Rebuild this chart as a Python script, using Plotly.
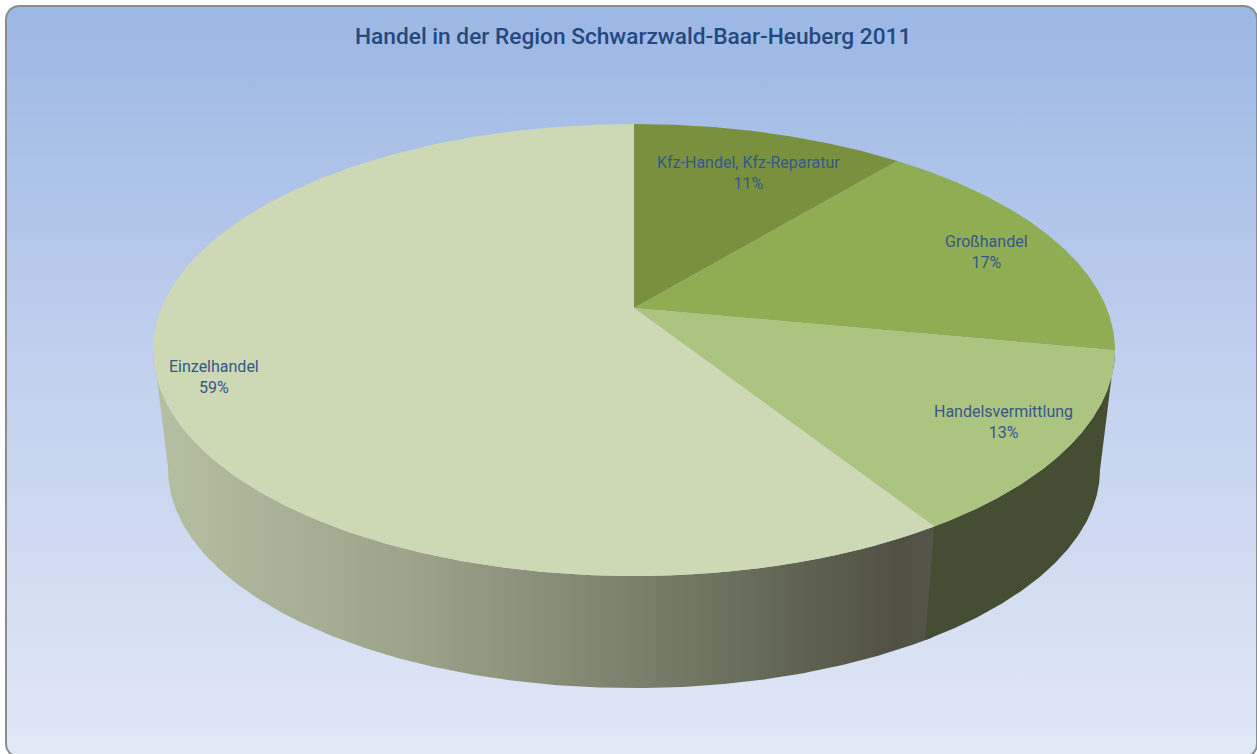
import numpy as np
import plotly.graph_objects as go

TITLE = "Handel in der Region Schwarzwald-Baar-Heuberg 2011"
categories = ["Kfz-Handel, Kfz-Reparatur", "Großhandel", "Handelsvermittlung", "Einzelhandel"]
shares = [11, 17, 13, 59]
top_colors = ["#79913F", "#8FAD52", "#ABC47F", "#CDD8B5"]
label_xy = [(748, 173), (986, 252), (1003, 422), (213.5, 377)]

W, H = 1257, 754
CX, CY = 634, 308
A, B, K = 472.6, 218.2, 0.1858
S, DY = 0.969, 130

def rim(deg, lower=False):
    t = np.radians(deg)
    u, v = np.sin(t), -np.cos(t)
    d = 1 - K * v
    x = CX + A * u / d
    y = CY + B * v / d
    if lower:
        x = CX + S * (x - CX)
        y = S * y + DY
    return x, y

def arc(a0, a1, n=240):
    return np.linspace(a0, a1, n)

fig = go.Figure()

# panel: rounded rectangle
r = 13
x0, y0, x1, y1 = 6, 6, 1257, 757
corners = [(x0 + r, y0 + r, 180), (x1 - r, y0 + r, 270), (x1 - r, y1 - r, 0), (x0 + r, y1 - r, 90)]
px, py = [], []
for ccx, ccy, st in corners:
    ca = np.radians(np.linspace(st, st + 90, 16))
    px.extend(ccx + r * np.cos(ca))
    py.extend(ccy + r * np.sin(ca))
px.append(px[0])
py.append(py[0])
fig.add_trace(go.Scatter(
    x=px, y=py, mode="lines", fill="toself",
    line=dict(color="#8C8C8C", width=2),
    fillgradient=dict(type="vertical", start=6, stop=754,
                      colorscale=[[0, "#9CB7E4"], [0.5, "#C2D1EE"], [1, "#E1E8F6"]]),
    hoverinfo="skip", showlegend=False))

# sides
edges = np.cumsum([0] + shares) * 3.6
def side(a0, a1, **kw):
    a = arc(a0, a1)
    tx, ty = rim(a)
    bx, by = rim(a, True)
    fig.add_trace(go.Scatter(
        x=np.r_[tx, bx[::-1], tx[0]], y=np.r_[ty, by[::-1], ty[0]],
        mode="lines", fill="toself", line=dict(width=0),
        hoverinfo="skip", showlegend=False, **kw))

side(edges[3] - 1, 260, fillgradient=dict(
    type="horizontal", start=157, stop=935,
    colorscale=[[0, "#B5BFA1"], [0.35, "#9AA188"], [0.7, "#70756200"[:7]],
                [0.95, "#505142"], [1, "#55564A"]]))
side(edges[2], edges[3], fillcolor="#454E33")

# top
for i, c in enumerate(top_colors):
    a = arc(edges[i], edges[i + 1])
    tx, ty = rim(a)
    fig.add_trace(go.Scatter(
        x=np.r_[CX, tx, CX], y=np.r_[CY, ty, CY], mode="lines", fill="toself",
        fillcolor=c, line=dict(width=0), name=categories[i],
        hoverinfo="skip", showlegend=False))

fig.add_annotation(x=632.5, y=36, text=TITLE, showarrow=False,
                   font=dict(family="Roboto", size=22.7, weight=500, color="#24497E"))
for c, s, (lx, ly) in zip(categories, shares, label_xy):
    fig.add_annotation(x=lx, y=ly, text=f"{c}<br>{s}%", showarrow=False, align="center",
                       font=dict(family="Roboto", size=16, color="#34588A"))

fig.update_layout(
    width=W, height=H, margin=dict(l=0, r=0, t=0, b=0),
    paper_bgcolor="white", plot_bgcolor="white", showlegend=False,
    xaxis=dict(range=[0, W], visible=False, fixedrange=True),
    yaxis=dict(range=[H, 0], visible=False, fixedrange=True))
fig.write_html("out.html", config=dict(displayModeBar=False),
               post_script="document.body.style.margin='0';document.body.style.overflow='hidden';")
